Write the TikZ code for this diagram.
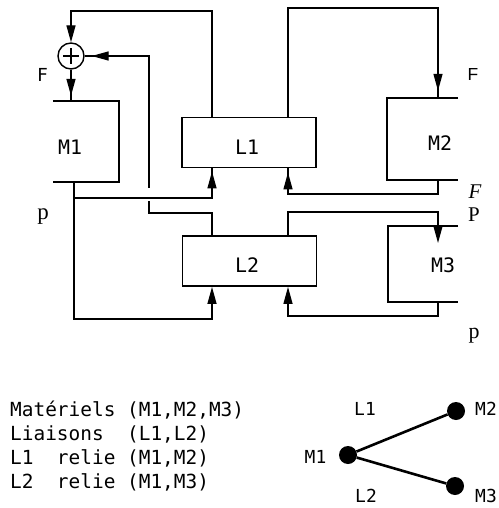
\documentclass[tikz,border=0pt]{standalone}
\usepackage{fontspec}
\setmonofont{DejaVu Sans Mono}
\newfontfamily\crispsans{Liberation Sans}
\newfontfamily\printserif{Liberation Serif}
\usetikzlibrary{arrows.meta,decorations.markings}

\tikzset{
  boxline/.style={line width=1.9bp},
  wire/.style={line width=1.4bp},
  tip/.style={-{Triangle[length=17bp,width=9bp]}},
  tipat/.style={postaction={decorate},decoration={markings,
      mark=at position -#1 with {\arrow{Triangle[length=17bp,width=9bp]}}}},
  lbox/.style={draw,boxline,inner sep=0,minimum width=134bp,minimum height=50bp},
  mbox/.style={inner sep=0},
  lab/.style={inner sep=0,font=\ttfamily\fontsize{20}{24}\selectfont},
  glab/.style={inner sep=0,font=\ttfamily\fontsize{18}{22}\selectfont},
  txt/.style={inner sep=0,anchor=base west,font=\ttfamily\fontsize{19.5}{24}\selectfont},
  serif/.style={inner sep=0,font=\printserif\fontsize{21}{24}\selectfont},
  dot/.style={circle,fill,inner sep=0,minimum size=18bp},
  edge/.style={line width=2.6bp}
}

\begin{document}
\begin{tikzpicture}[x=1bp,y=-1bp]
\useasboundingbox (0,0) rectangle (499,508);
% columns and rows of the wiring
\coordinate (xa) at (74,0);
\coordinate (xb) at (149,0);
\coordinate (xc) at (212,0);
\coordinate (xd) at (288,0);
\coordinate (xe) at (438,0);
\coordinate (ya) at (0,11);
\coordinate (yb) at (0,8);
\coordinate (yd) at (0,198);
\coordinate (ye) at (0,194);
\coordinate (yf) at (0,213);
\coordinate (yg) at (0,212);
\coordinate (yh) at (0,319);
\coordinate (yi) at (0,316);
\coordinate (m3tip) at (438,243);

% boxes
\node[mbox,minimum width=66bp,minimum height=81bp] (m1) at (86,141.5) {};
\node[mbox,minimum width=71bp,minimum height=82bp] (m2) at (422.5,139) {};
\node[mbox,minimum width=70bp,minimum height=76bp] (m3) at (423,264) {};
\node[lbox] (l1) at (249,142.5) {};
\node[lbox] (l2) at (249.5,261) {};
\draw[boxline] (m1.north west) -- (m1.north east) -- (m1.south east) -- (m1.south west);
\draw[boxline] (m2.north east) -- (m2.north west) -- (m2.south west) -- (m2.south east);
\draw[boxline] (m3.north east) -- (m3.north west) -- (m3.south west) -- (m3.south east);
\node[lab] (m1t) at (70,147.5) {M1};
\node[lab] (m2t) at (440,143.5) {M2};
\node[lab] (m3t) at (443,265) {M3};
\node[lab] (l1t) at (247,147) {L1};
\node[lab] (l2t) at (247,265) {L2};

% summing point
\node[draw,wire,circle,minimum size=26bp,inner sep=0] (sum) at (71,56) {};
\draw[wire] ([xshift=-8bp]sum.center) -- ([xshift=8bp]sum.center)
  ([yshift=-8bp]sum.center) -- ([yshift=8bp]sum.center);

% wiring
\draw[wire,tip] (l1.north -| xc) -- (xc |- ya) -| (sum);
\draw[wire,tipat=7bp] (l2.north -| xc) -- (xc |- yf) -| (xb |- sum) -- (sum);
\fill[white] (145,188) rectangle (153,201);
\draw[wire,tipat=5bp] (sum) -- (sum |- m1.north);
\draw[wire,tipat=3bp] (m1.south -| xa) -- (xa |- yd) -| (l1.south -| xc);
\draw[wire,tip] (m1.south -| xa) -- (xa |- yh) -| (l2.south -| xc);
\draw[wire,tipat=4bp] (m2.south -| xe) -- (xe |- ye) -| (l1.south -| xd);
\draw[wire,tipat=7bp] (l1.north -| xd) -- (xd |- yb) -| (m2.north -| xe);
\draw[wire,tip] (l2.north -| xd) -- (xd |- yg) -| (m3tip);
\draw[wire,tip] (m3.south -| xe) -- (xe |- yi) -| (l2.south -| xd);

% side labels
\node[glab] (fl) at (42.5,75) {F};
\node[inner sep=0,font=\crispsans\fontsize{17.5}{20}\selectfont] (fr) at (473,75) {F};
\node[serif] (fi) at (475,192) {\itshape F};
\node[serif] (pr) at (474,215) {P};
\node[serif,font=\printserif\fontsize{22}{26}\selectfont] (pb) at (474,335.5) {p};
\node[serif,font=\printserif\fontsize{23}{26}\selectfont] (pl) at (43,217) {p};

% description
\node[txt] (mat) at (10,416) {Matériels (M1,M2,M3)};
\node[txt] (lia) at (10,440) {Liaisons\ \ (L1,L2)};
\node[txt] (rl1) at (10,464) {L1\ \ relie (M1,M2)};
\node[txt] (rl2) at (10,488) {L2\ \ relie (M1,M3)};

% graph
\node[dot] (g1) at (348,455) {};
\node[dot] (g2) at (456,411) {};
\node[dot] (g3) at (455,486) {};
\draw[edge] (g1) -- (g2);
\draw[edge] (g1) -- (g3);
\node[glab] (g1t) at (315.5,456.5) {M1};
\node[glab] (g2t) at (486,409) {M2};
\node[glab] (g3t) at (486,496) {M3};
\node[glab] (gl1) at (365,409) {L1};
\node[glab] (gl2) at (366,496) {L2};
\end{tikzpicture}
\end{document}
